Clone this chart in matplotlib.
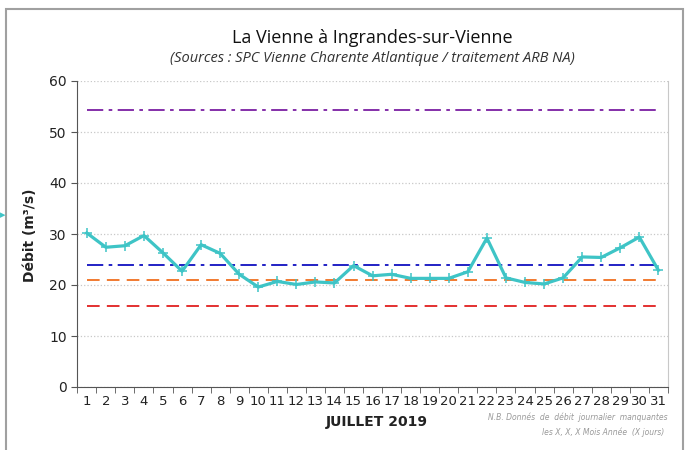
import numpy as np
import matplotlib.pyplot as plt
from matplotlib.patches import Rectangle

jours = list(range(1, 32))
debit = [30.2, 27.4, 27.7, 29.7, 26.3, 22.7, 27.9, 26.2, 22.1, 19.6,
         20.7, 20.1, 20.6, 20.4, 23.8, 21.8, 22.1, 21.3, 21.3, 21.3,
         22.6, 29.2, 21.4, 20.5, 20.2, 21.4, 25.5, 25.4, 27.3, 29.4, 22.9]

# seuils
seuil_violet = 54.4
seuil_bleu = 24.0
seuil_orange = 20.9
seuil_rouge = 15.9

fig = plt.figure(figsize=(6.9, 4.5), dpi=100)
ax = fig.add_axes([0.112, 0.14, 0.856, 0.68])

# cadre gris autour du graphique
fig.patches.append(Rectangle((0.008, -0.01), 0.982, 0.99, transform=fig.transFigure,
                             fill=False, edgecolor='#a0a0a0', lw=1.5))
# petite fleche turquoise sur le bord gauche
fig.text(0.0, 0.522, "▸", ha='left', va='center', fontsize=8, color='#3ec4c6')

x = np.array(jours)
ax.plot(x, [seuil_violet] * len(x), color='#7b1fa2', lw=1.3, dashes=[9, 3, 2, 3])
ax.plot(x, [seuil_bleu] * len(x), color='#1010c0', lw=1.3, dashes=[9, 3, 2, 3])
ax.plot(x, [seuil_orange] * len(x), color='#f07020', lw=1.3, dashes=[7, 4])
ax.plot(x, [seuil_rouge] * len(x), color='#e02020', lw=1.3, dashes=[7, 4])
ax.plot(x, debit, color='#3ec4c6', lw=2.3, marker='+', ms=7, mew=1.1)

ax.set_xlim(0.5, 31.5)
ax.set_ylim(0, 60)
ax.set_yticks(range(0, 61, 10))
ax.set_xticks(jours)
ax.set_xticks(np.arange(0.5, 32, 1), minor=True)
ax.tick_params(axis='x', which='major', length=0, labelsize=9.5, pad=6, labelcolor='#222222')
ax.tick_params(axis='x', which='minor', length=4, color='#555555')
ax.tick_params(axis='y', length=4, labelsize=10, color='#555555', labelcolor='#222222')
ax.yaxis.grid(True, color='#c8c8c8', ls=':', lw=0.9)
ax.set_axisbelow(True)
ax.spines['top'].set_visible(False)
ax.spines['right'].set_color('#c8c8c8')
ax.spines['left'].set_color('#555555')
ax.spines['bottom'].set_color('#555555')

fig.text(0.54, 0.915, "La Vienne à Ingrandes-sur-Vienne", ha='center', va='center',
         fontsize=13, family='Open Sans', fontweight='medium', color='#111111')
fig.text(0.54, 0.87, "(Sources : SPC Vienne Charente Atlantique / traitement ARB NA)",
         ha='center', va='center', fontsize=10.5, family='Open Sans', style='italic', color='#333333')
fig.text(0.044, 0.478, "Débit (m³/s)", rotation=90, ha='center', va='center',
         fontsize=10, fontweight='bold', color='#222222')
fig.text(0.546, 0.062, "JUILLET 2019", ha='center', va='center',
         fontsize=10, fontweight='bold', color='#222222')
fig.text(0.968, 0.072, "N.B. Donnés  de  débit  journalier  manquantes", ha='right', va='center',
         fontsize=5.5, style='italic', color='#999999')
fig.text(0.962, 0.04, "les X, X, X Mois Année  (X jours)", ha='right', va='center',
         fontsize=5.5, style='italic', color='#999999')

fig.savefig('out.png', dpi=100)
